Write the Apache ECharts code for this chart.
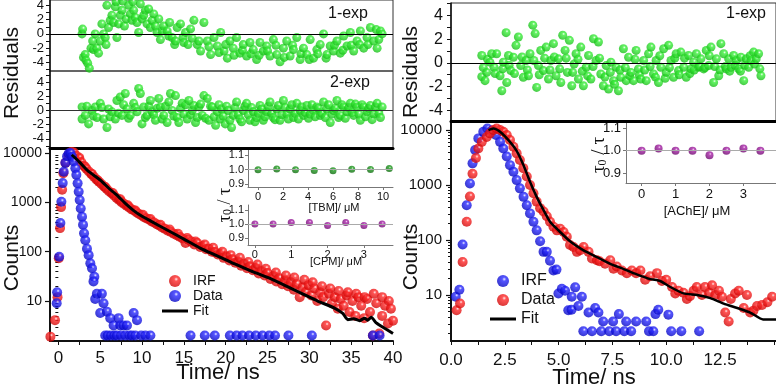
<!DOCTYPE html>
<html>
<head>
<meta charset="utf-8">
<script src="https://cdn.jsdelivr.net/npm/echarts@6/dist/echarts.min.js"></script>
<style>
  html, body { margin: 0; background: #fff; }
  #chart { width: 776px; height: 388px; }
</style>
</head>
<body>
<div id="chart"></div>
<script>
  // ---- data ----
  // left panel: residuals [time ns, residual]
  const leftRes1exp = [[2.83,0],[2.9,0.67],[3.0,-3.3],[3.2,-2.9],[3.3,-3.7],[3.5,-4.1],[3.7,-4.8],[3.9,-2.0],[4.1,-1.0],[4.2,-2.2],[4.4,0],[4.6,-2],[4.8,-2.7],[5.0,-1.0],[5.2,1.4],[5.4,0],[5.6,-0.5],[5.7,-1.5],[5.8,4.0],[6.0,0.9],[6.2,1.9],[6.4,2.6],[6.6,1.6],[6.8,3.8],[6.9,4.5],[7.0,-0.5],[7.2,1.4],[7.4,2.6],[7.6,3.3],[7.7,4.6],[7.9,1.1],[8.1,2.1],[8.4,4.0],[8.6,2.8],[8.8,1.9],[8.9,4.5],[9.0,3.3],[9.2,2.3],[9.4,1.6],[9.6,0.2],[9.8,4.2],[10.0,2.1],[10.2,2.6],[10.4,3.3],[10.6,1.4],[10.8,3.5],[11.0,0.9],[11.2,1.9],[11.4,2.8],[11.6,1.1],[11.8,0.2],[12.0,2.1],[12.2,-0.8],[12.4,0.4],[12.6,1.1],[13.0,0.4],[13.2,-0.3],[13.3,1.6],[13.6,-0.5],[13.9,-1.5],[14.0,-1.0],[14.2,0.9],[14.6,1.4],[14.9,-0.5],[15.0,-1.2],[15.2,0.2],[15.5,-1.5],[15.8,0.7],[16.0,-0.6],[16.2,1.9],[16.6,-1.5],[16.8,-1.0],[17.0,-2.4],[17.4,1.6],[17.8,-1.0],[18.0,-1.8],[18.2,-2.9],[18.6,-0.5],[19.0,-1.7],[19.2,-2.6],[19.4,0.2],[19.8,-2.4],[20.0,-1.5],[20.2,-3.4],[20.5,-1.0],[20.9,-2.0],[21.0,-3.0],[21.3,-0.5],[21.7,-2.7],[22.0,-2.3],[22.1,-1.5],[22.5,-3.1],[22.9,-1.2],[23.0,-2.8],[23.3,-2.2],[23.7,-3.6],[24.0,-3.0],[24.1,-1.2],[24.5,-2.4],[24.9,-1.7],[25.0,-2.4],[25.3,-3.1],[25.7,-0.8],[26.0,-1.6],[26.1,-2.9],[26.5,-3.9],[26.9,-2.0],[27.0,-3.3],[27.3,-1.0],[27.7,-3.1],[28.0,-1.6],[28.1,-2.2],[28.5,-0.5],[28.9,-3.6],[29.0,-2.8],[29.3,-2.0],[29.7,-2.9],[30.0,-3.6],[30.1,-0.8],[30.5,-3.4],[30.9,-2.2],[31.0,-2.8],[31.3,-1.5],[31.7,0],[32.0,-3.4],[32.1,-2.9],[32.5,-1.7],[32.9,-2.4],[33.0,-1.6],[33.3,-1.0],[33.7,-2.7],[34.0,-2.3],[34.1,-0.3],[34.5,-1.7],[34.9,0.2],[35.0,-1.6],[35.3,-2.4],[35.7,-1.0],[36.0,-1.5],[36.1,0.4],[36.5,-2.0],[36.9,-0.5],[37.0,-1.5],[37.3,0.9],[37.7,-1.0],[38.0,0.6],[38.1,-2.0],[38.3,-0.8],[38.5,0.4],[38.7,0]];
  const leftRes2exp = [[2.83,0.5],[2.83,-1.2],[3.22,-0.7],[3.4,0.6],[3.62,-1.9],[4.02,0],[4.2,-0.8],[4.42,0.5],[4.62,-1],[5.01,1],[5.2,0.4],[5.41,-1.2],[5.81,-2.4],[6.01,0.2],[6.2,-0.9],[6.41,-0.2],[6.81,-1.2],[7.0,1.4],[7.2,-0.4],[7.4,1.9],[7.6,-0.7],[7.8,0.8],[8.0,2.4],[8.2,0.2],[8.4,-1.1],[8.6,-0.7],[9.0,1],[9.2,0.4],[9.4,-0.2],[9.6,3.1],[9.8,2.4],[10.0,-1.9],[10.2,0.5],[10.4,-1.0],[10.6,-0.7],[10.8,0.6],[11.0,1.4],[11.2,-0.2],[11.4,-0.6],[11.6,-1.4],[11.8,0.3],[12.0,1.7],[12.2,0.5],[12.4,-1.2],[12.6,-0.7],[12.8,0.6],[13.0,-1.7],[13.2,1.2],[13.4,2.4],[13.6,0],[13.8,-0.8],[14.0,2.1],[14.2,-1],[14.4,-1.7],[14.6,0.3],[14.8,1],[15.0,-0.5],[15.2,0.8],[15.4,-1.2],[15.6,1.4],[15.8,-0.6],[16.0,0],[16.2,0.7],[16.4,-1.7],[16.6,-1.0],[16.8,0.5],[17.0,0.9],[17.2,-0.7],[17.4,2.1],[17.6,-1.1],[17.8,1.7],[18.0,-1.4],[18.2,0.6],[18.4,0.5],[18.6,-0.9],[18.8,-2.1],[19.0,-0.2],[19.2,0.8],[19.35,-1.2],[19.5,0.2],[19.7,-0.8],[19.95,-1.9],[20.1,0.6],[20.3,0],[20.5,-1.4],[20.7,-2.4],[20.9,-0.7],[21.1,0.4],[21.3,1.2],[21.5,-0.6],[21.7,-1.2],[21.9,-1.6],[22.1,0],[22.3,0.6],[22.5,1],[22.7,-0.6],[22.9,-1.4],[23.1,0.4],[23.3,-0.2],[23.5,-1.6],[23.7,-1],[23.9,-0.4],[24.1,0.7],[24.3,0.2],[24.5,-1.4],[24.7,-0.9],[24.9,-0.2],[25.1,0.6],[25.3,1.2],[25.5,-0.4],[25.7,-1],[25.9,-1.3],[26.1,0.2],[26.3,0.7],[26.5,-1.4],[26.7,-0.6],[26.9,1.4],[27.1,0.4],[27.3,-0.5],[27.5,-1.2],[27.7,0.2],[27.9,0.8],[28.1,-1],[28.3,-0.4],[28.5,1],[28.7,-1.2],[28.9,0],[29.1,0.5],[29.3,-0.7],[29.5,-0.3],[29.7,0.7],[29.9,-1.1],[30.1,-0.5],[30.3,0.8],[30.5,0],[30.7,-0.9],[30.9,0.5],[31.1,0.3],[31.3,-0.7],[31.5,-0.4],[31.7,1.2],[31.9,-1.0],[32.1,0.2],[32.3,0.8],[32.5,-1.7],[32.7,-0.5],[32.9,0],[33.1,0.3],[33.3,1.4],[33.5,-1.0],[33.7,-0.7],[33.9,0.8],[34.1,0.5],[34.3,-1.1],[34.5,-0.2],[34.7,0.4],[34.9,1],[35.1,-0.3],[35.3,-0.7],[35.5,0.9],[35.7,0.5],[35.9,-0.5],[36.1,-1.4],[36.3,0.8],[36.5,0.5],[36.7,-0.9],[36.9,-0.2],[37.1,0.3],[37.3,0.7],[37.5,-1.3],[37.7,-0.5],[37.9,0.5],[38.1,1],[38.3,-0.4],[38.5,-1],[38.7,0.5]];

  // left panel: decay [time ns, counts]
  const leftIrf = [[-0.95,1.9],[-0.4,4.1],[-0.1,12],[0.05,74],[0.2,300],[0.32,800],[0.45,1800],[0.6,3900],[0.85,6300],[1.2,9100],[1.55,10500],[1.85,10200],[2.15,8800],[2.45,7600],[2.5,8000],[2.75,6500],[3.05,5500],[3.2,5200],[3.35,4800],[3.65,4200],[3.95,3700],[4.0,3800],[4.25,3300],[4.55,2900],[4.7,2800],[4.85,2600],[5.15,2350],[5.45,2100],[5.6,2050],[5.75,1880],[6.05,1680],[6.35,1520],[6.5,1550],[6.65,1370],[6.95,1230],[7.25,1120],[7.4,1150],[7.55,1010],[7.85,930],[8.15,850],[8.3,870],[8.45,790],[8.75,720],[9.05,680],[9.2,680],[9.35,620],[9.65,580],[9.95,540],[10.1,560],[10.25,500],[10.55,470],[10.85,450],[11.0,460],[11.15,410],[11.45,390],[11.75,360],[12.05,340],[12.2,350],[12.4,310],[12.75,290],[13.1,265],[13.3,280],[13.45,250],[13.8,230],[14.15,215],[14.3,230],[14.5,200],[14.85,185],[15.2,150],[15.4,190],[15.55,175],[15.9,160],[16.25,140],[16.4,160],[16.6,150],[16.95,125],[17.3,130],[17.5,140],[17.65,112],[18.0,115],[18.35,100],[18.5,120],[18.7,98],[19.05,88],[19.4,92],[19.6,100],[19.75,75],[20.1,80],[20.45,66],[20.6,85],[20.8,70],[21.15,60],[21.5,63],[21.7,75],[21.85,52],[22.2,57],[22.55,46],[22.7,62],[22.9,50],[23.25,42],[23.6,47],[23.8,55],[23.95,36],[24.3,40],[24.65,33],[24.8,45],[25.0,37],[25.35,28],[25.7,32],[26.0,38],[26.05,25],[26.4,29],[26.75,22],[27.1,26],[27.2,33],[27.45,20],[27.8,24],[28.15,17],[28.2,30],[28.5,22],[28.85,12],[29.2,19],[29.4,27],[29.55,15],[29.9,21],[30.25,13],[30.4,24],[30.6,18],[30.95,10],[31.3,15],[31.5,20],[31.65,12],[32.0,3.2],[32.35,14],[32.5,18],[32.7,9],[33.05,12],[33.4,7],[33.5,16],[33.75,11],[34.1,8],[34.45,13],[34.6,15],[34.8,6],[35.15,10],[35.5,5],[35.6,14],[35.85,12],[36.2,8],[36.55,4.5],[36.6,12],[36.9,11],[37.25,6],[37.6,2],[37.7,14],[38.0,9],[38.35,2.2],[38.7,5],[38.7,12],[39.05,8],[39.4,3.5],[39.5,10],[39.75,7],[40,4]];
  const leftData = [[-0.2,9],[-0.15,15],[0.1,79],[0.24,380],[0.36,1030],[0.52,2450],[0.64,4170],[0.84,6300],[1.04,8600],[1.25,9800],[1.45,10000],[1.63,8400],[1.83,6700],[2.03,4900],[2.15,3600],[2.3,2420],[2.43,1640],[2.55,1110],[2.67,750],[2.83,510],[2.95,350],[3.07,235],[3.22,170],[3.42,115],[3.62,85],[3.82,58],[4.02,46],[4.3,31],[4.2,25],[4.4,11],[4.6,14],[5.0,5.7],[5.2,14],[5.4,9],[5.6,2],[5.8,6.1],[5.9,2],[6.2,4.5],[6.3,2],[6.6,3.2],[6.7,2],[7.0,2],[7.2,4.5],[7.4,3.2],[7.5,2],[7.8,3.2],[8.0,2],[8.2,3.2],[8.5,2],[8.8,2],[9.0,5.7],[9.2,2],[9.4,4.1],[9.9,2],[10.4,2],[11.0,2],[15.8,2],[17.5,2],[18.7,2],[20.5,2],[21.3,2],[22.0,2],[22.8,2],[23.6,2],[24.4,2],[25.2,2],[25.9,2],[27.5,2],[30.3,2],[37.6,2],[38.4,2]];
  const leftFit = [[1.6,9200],[2.5,6600],[3.5,4400],[5.0,2830],[6.0,1950],[7.0,1400],[8.0,950],[9.0,680],[10.0,520],[11.0,420],[13.0,275],[15.0,180],[17.0,117],[19.0,82],[21.0,57],[23.0,41],[25.0,30],[27.0,21],[29.0,14.5],[31.0,10],[33.0,7.2],[34.0,5.6],[34.6,4.2],[35.3,4.4],[36.0,4.0],[36.6,4.5],[37.0,4.1],[37.4,4.7],[38.0,3.6],[39.0,2.8],[40.0,2.2]];

  // left insets: tau0/tau vs concentration
  const tbmConc = [0, 1.5, 3, 4.5, 6, 7.5, 9, 10.5];
  const tbmRatio = [1.0, 1.005, 1.0, 0.995, 0.993, 1.003, 1.002, 1.008];
  const cpmConc = [0, 0.5, 1, 1.5, 2, 2.5, 3, 3.5];
  const cpmRatio = [1.0, 1.0, 1.01, 1.01, 0.99, 1.01, 0.99, 1.0];

  // right panel
  const rightRes = [[1.43,0.62],[1.43,-1.16],[1.5,-0.4],[1.58,-1.5],[1.66,-0.8],[1.7,0.3],[1.81,0.06],[1.89,0.77],[2.0,-0.37],[2.05,-0.9],[2.12,0.77],[2.28,-1.08],[2.36,-2.35],[2.4,-0.5],[2.43,0.06],[2.56,2.55],[2.59,-1.65],[2.67,0.62],[2.7,-0.2],[2.78,-0.65],[2.9,0.48],[2.95,-0.9],[3.02,1.48],[3.13,2.18],[3.24,-0.23],[3.3,0.5],[3.36,-1.22],[3.49,0.2],[3.55,-0.6],[3.6,-1.08],[3.67,0.77],[3.8,3.18],[3.85,0.2],[3.91,2.47],[3.98,-2.07],[4.06,-0.23],[4.1,-1.0],[4.17,1.05],[4.29,-0.65],[4.35,0.4],[4.42,1.33],[4.53,-1.36],[4.6,-0.6],[4.64,0.2],[4.76,1.62],[4.8,0.5],[4.88,-1.08],[4.99,0.34],[5.05,-0.5],[5.1,-1.65],[5.19,2.33],[5.3,1.05],[5.35,0.4],[5.41,-0.8],[5.5,1.9],[5.61,-1.93],[5.65,-0.8],[5.72,-0.09],[5.81,0.77],[5.9,0.3],[5.92,-1.36],[6.03,1.33],[6.1,-0.7],[6.15,-1.93],[6.28,-0.37],[6.35,-1.1],[6.39,0.62],[6.5,-1.36],[6.6,-0.3],[6.62,2.04],[6.74,0.2],[6.85,1.76],[6.9,0.4],[6.96,-0.94],[7.08,-1.93],[7.15,-1.2],[7.21,-0.23],[7.32,-2.21],[7.4,-0.8],[7.43,0.06],[7.55,-1.5],[7.6,-1.8],[7.67,-0.37],[7.78,-2.35],[7.85,-0.6],[7.89,-1.22],[8.01,1.19],[8.1,-0.4],[8.14,-1.5],[8.25,0.48],[8.3,-1.1],[8.36,-0.8],[8.48,-1.5],[8.55,0.3],[8.6,1.05],[8.71,-0.51],[8.75,-1.0],[8.82,-1.36],[8.95,0.2],[9.0,-0.6],[9.07,-1.5],[9.18,0.77],[9.25,-0.3],[9.29,1.33],[9.41,-0.94],[9.5,-1.2],[9.53,0.2],[9.64,-1.65],[9.7,0.6],[9.75,-0.37],[9.88,1.19],[9.95,-1.3],[10.0,-0.8],[10.11,1.48],[10.15,-0.4],[10.22,0.2],[10.34,-1.22],[10.4,0.4],[10.46,0.77],[10.57,-0.65],[10.6,-1.0],[10.68,0.91],[10.81,-0.37],[10.85,0.4],[10.93,-1.22],[11.04,0.62],[11.1,-0.9],[11.15,-0.51],[11.27,0.06],[11.3,-0.6],[11.4,0.77],[11.5,-0.37],[11.55,-0.3],[11.61,0.34],[11.74,-0.51],[11.8,-0.4],[11.86,1.05],[11.97,-0.23],[12.0,0.6],[12.08,1.33],[12.2,-1.65],[12.25,-0.3],[12.33,0.34],[12.44,-1.08],[12.5,-0.6],[12.54,1.62],[12.67,0.77],[12.75,-0.3],[12.79,-0.51],[12.9,0.34],[12.95,-0.7],[13.01,-0.37],[13.13,0.62],[13.2,-0.2],[13.26,0.2],[13.37,-0.51],[13.45,-0.7],[13.47,0.48],[13.6,-1.5],[13.65,-0.2],[13.72,0.34],[13.83,-0.37],[13.9,0.6],[13.94,0.2],[14.06,0.91],[14.1,-0.1],[14.18,0.34],[14.29,0.77],[14.35,-0.5],[14.4,-1.08]];
  const rightIrf = [[0.22,9.3],[0.39,12.5],[0.54,83],[0.73,430],[0.88,1070],[1.0,2480],[1.12,4330],[1.27,7050],[1.5,9300],[1.69,10700],[1.89,9800],[2.09,8100],[2.28,6100],[2.43,4600],[2.59,3300],[2.74,2300],[2.9,1750],[3.05,1230],[3.2,870],[3.37,610],[3.52,430],[3.67,305],[3.83,215],[3.98,150],[4.14,95],[4.3,61],[4.45,61],[4.6,42],[4.76,28],[4.9,29],[4.99,10.7],[5.15,13],[5.3,12],[5.45,5.3],[5.6,5.4],[5.61,9.3],[5.77,13.8],[5.92,6.3],[6.08,9.3],[6.15,2.2],[6.39,4.8],[6.55,2.2],[6.7,5.8],[6.85,4.8],[6.98,2.2],[7.07,3.3],[7.35,2.2],[7.53,3.3],[7.67,2.2],[7.8,4.5],[8.05,2.2],[8.14,3.3],[8.37,2.2],[8.6,3.3],[9.07,3.3],[9.2,2.2],[9.4,2.2],[9.5,4.5],[9.63,5.4],[10.1,4.4],[10.23,2.2],[10.7,2.2],[11.53,2.2]];
  const rightData = [[0.26,5.3],[0.42,7.0],[0.54,40],[0.73,215],[0.88,620],[1.0,1600],[1.16,3100],[1.27,4600],[1.43,6100],[1.66,7500],[1.81,8700],[1.97,10000],[2.12,10700],[2.28,10000],[2.43,9300],[2.59,8100],[2.74,6600],[2.9,4960],[3.05,3770],[3.2,2860],[3.36,2030],[3.52,1430],[3.67,1000],[3.83,710],[3.98,500],[4.14,380],[4.3,330],[4.45,270],[4.6,215],[4.76,175],[4.92,150],[5.07,160],[5.23,140],[5.38,115],[5.53,81],[5.69,75],[5.85,61],[6.0,65],[6.16,75],[6.39,61],[6.55,46],[6.78,43],[6.9,41],[7.16,37],[7.4,43],[7.55,30],[7.7,33],[7.94,28],[8.17,25],[8.4,28],[8.6,25],[8.8,28],[9.02,19],[9.25,22],[9.57,25],[9.8,18],[10.0,19],[10.27,14],[10.42,10.7],[10.57,12],[10.8,11],[10.96,8.5],[11.1,9.5],[11.27,12],[11.42,14],[11.66,10],[11.8,14],[12.0,11],[12.13,15],[12.28,10],[12.45,12],[12.59,9.3],[12.74,4.8],[12.9,3.3],[13.0,8.5],[13.2,10.7],[13.37,12],[13.6,5.8],[13.75,10],[13.9,4.8],[14.05,5.2],[14.22,6.3],[14.45,6.6],[14.7,7.4],[14.92,9.3]];
  const rightFit = [[1.74,10000],[1.97,10700],[2.28,9300],[2.74,6100],[3.05,4200],[3.37,2300],[3.67,1150],[3.98,610],[4.3,350],[4.6,215],[4.92,160],[5.53,95],[6.16,65],[6.78,49],[7.4,37],[8.0,30],[8.6,24],[9.26,19.5],[9.72,18],[10.19,14],[10.8,10.7],[11.43,10],[12.05,8.8],[12.67,7.0],[13.3,5.8],[13.9,4.8],[14.5,3.6],[15.1,3.6]];
  const acheConc = [0, 0.5, 1, 1.5, 2, 2.5, 3, 3.5];
  const acheRatio = [1.0, 1.01, 1.0, 1.0, 0.98, 1.0, 1.01, 1.0];

  // tick / label positions
  const leftTimeLabels = [0, 5, 10, 15, 20, 25, 30, 35, 40];
  const leftTimeTicks = [0, 2.5, 5, 7.5, 10, 12.5, 15, 17.5, 20, 22.5, 25, 27.5, 30, 32.5, 35, 37.5, 40];
  const rightTimeLabels = [0, 2.5, 5, 7.5, 10, 12.5];
  const rightTimeTicks = [0, 1.25, 2.5, 3.75, 5, 6.25, 7.5, 8.75, 10, 11.25, 12.5, 13.75, 15];
  const countLabels = [10, 100, 1000, 10000];
  const countMinor = [2,3,4,5,6,7,8,9,20,30,40,50,60,70,80,90,200,300,400,500,600,700,800,900,2000,3000,4000,5000,6000,7000,8000,9000];
  const resLabels = [-4, -2, 0, 2, 4];
  const resTicks = [-5, -4, -3, -2, -1, 0, 1, 2, 3, 4, 5];
  const ratioLabels = [0.9, 1.0, 1.1];

  const FONT = '"Liberation Sans Narrow", "Liberation Sans", Arial, sans-serif';
  const SERIF = '"Liberation Serif", "DejaVu Serif", serif';
  const LINE_ICON = 'path://M0,0L0,0M26,12L26,12M0,4.5L26,4.5L26,7.5L0,7.5Z';

  function ball(hi, base, dark) {
    return new echarts.graphic.RadialGradient(0.6, 0.35, 0.75, [
      { offset: 0, color: hi }, { offset: 0.22, color: base }, { offset: 1, color: dark }
    ]);
  }
  const RED = ball('#ffe8e8', '#ff2a2a', '#c80000');
  const BLUE = ball('#e8e8ff', '#2a2aff', '#0000b8');
  const GREEN = ball('#f0fff0', '#3cf03c', '#12b412');
  const DKGREEN = ball('#c8f0c8', '#1f9c1f', '#0a600a');
  const PURPLE = ball('#f4c8f4', '#a824a8', '#640064');

  function zip(a, b) { return a.map((v, i) => [v, b[i]]); }

  function hiddenX(grid, min, max) {
    return { gridIndex: grid, type: 'value', min: min, max: max, show: false };
  }
  function numAxis(grid, min, max, ticks, opts) {
    return Object.assign({
      gridIndex: grid, type: 'value', min: min, max: max,
      axisLine: { show: true, onZero: false, lineStyle: { color: '#111', width: 1.5 } },
      axisTick: { show: true, customValues: ticks, length: 4, lineStyle: { color: '#111', width: 1 } },
      splitLine: { show: false }
    }, opts || {});
  }
  function label(values, size, margin, fmt, lh) {
    const o = { customValues: values, fontSize: size, color: '#111', fontFamily: FONT, margin: margin,
      showMinLabel: true, showMaxLabel: true, hideOverlap: false, interval: 0, lineHeight: lh || size };
    if (fmt) o.formatter = fmt;
    return o;
  }
  function thinLine(color) {
    return { show: true, onZero: false, lineStyle: { color: color, width: 1 } };
  }
  function grayTicks(values) {
    return { show: true, customValues: values, length: 3, lineStyle: { color: '#777' } };
  }
  function zeroLine(v, color) {
    return { silent: true, symbol: 'none', label: { show: false },
      lineStyle: { color: color, width: 1, type: 'solid' }, data: [{ yAxis: v }] };
  }
  const fix1 = v => v.toFixed(1);
  const plain = v => String(v);

  const chart = echarts.init(document.getElementById('chart'));
  chart.setOption({
    animation: false,
    backgroundColor: '#fff',
    grid: [
      { left: 50, top: 0, width: 343, height: 71, show: true, borderColor: '#333', borderWidth: 1, outerBoundsMode: 'none' },
      { left: 50, top: 71, width: 343, height: 77, show: true, borderColor: '#333', borderWidth: 1, outerBoundsMode: 'none' },
      { left: 50, top: 148, width: 343, height: 193, outerBoundsMode: 'none' },
      { left: 248, top: 148, width: 145, height: 39, outerBoundsMode: 'none' },
      { left: 248, top: 205, width: 145, height: 40, outerBoundsMode: 'none' },
      { left: 451, top: 3, width: 325, height: 118, show: true, borderColor: '#333', borderWidth: 1, outerBoundsMode: 'none' },
      { left: 451, top: 121, width: 325, height: 220, outerBoundsMode: 'none' },
      { left: 626, top: 121, width: 150, height: 62, outerBoundsMode: 'none' }
    ],
    xAxis: [
      hiddenX(0, -1, 40),
      hiddenX(1, -1, 40),
      numAxis(2, -1, 40, leftTimeTicks, {
        axisLine: { show: true, onZero: false, lineStyle: { color: '#111', width: 2 } },
        axisLabel: label(leftTimeLabels, 17, 9)
      }),
      numAxis(3, -0.8, 10.8, null, {
        axisLine: thinLine('#777'), axisTick: grayTicks([0, 2, 4, 6, 8, 10]),
        axisLabel: label([0, 2, 4, 6, 8, 10], 11, 4)
      }),
      numAxis(4, -0.19, 3.8, null, {
        axisLine: thinLine('#777'), axisTick: grayTicks([0, 1, 2, 3]),
        axisLabel: label([0, 1, 2, 3], 11, 4)
      }),
      hiddenX(5, 0, 15.1),
      numAxis(6, 0, 15.1, rightTimeTicks, {
        axisLine: { show: true, onZero: false, lineStyle: { color: '#111', width: 2 } },
        axisLabel: label(rightTimeLabels, 17, 11, fix1)
      }),
      numAxis(7, -0.46, 3.96, null, {
        axisLine: thinLine('#777'), axisTick: grayTicks([0, 1, 2, 3]),
        axisLabel: label([0, 1, 2, 3], 13, 5)
      }),
      // thick frame lines on top of the decay plots
      { gridIndex: 2, type: 'value', position: 'top', min: -1, max: 40,
        axisLine: { show: true, lineStyle: { color: '#000', width: 3 } },
        axisTick: { show: false }, axisLabel: { show: false }, splitLine: { show: false } },
      { gridIndex: 6, type: 'value', position: 'top', min: 0, max: 15.1,
        axisLine: { show: true, lineStyle: { color: '#000', width: 3 } },
        axisTick: { show: false }, axisLabel: { show: false }, splitLine: { show: false } }
    ],
    yAxis: [
      numAxis(0, -5.2, 4.75, resTicks, { axisLabel: label(resLabels, 13, 6, null, 11) }),
      numAxis(1, -5.3, 5.57, resTicks, { axisLabel: label(resLabels, 13, 6, null, 11) }),
      numAxis(2, 1.55, 12600, countLabels, {
        type: 'log', logBase: 10,
        axisLine: { show: true, onZero: false, lineStyle: { color: '#111', width: 2 } },
        axisTick: { show: true, customValues: countLabels, length: 5, lineStyle: { color: '#111', width: 1.2 } },
        axisLabel: label(countLabels, 14, 8, plain)
      }),
      numAxis(3, 0.88, 1.15, null, {
        axisLine: thinLine('#777'), axisTick: grayTicks(ratioLabels),
        axisLabel: label(ratioLabels, 11, 4, fix1, 10)
      }),
      numAxis(4, 0.85, 1.136, null, {
        axisLine: thinLine('#777'), axisTick: grayTicks(ratioLabels),
        axisLabel: label(ratioLabels, 11, 4, fix1, 10)
      }),
      numAxis(5, -4.9, 5.05, resTicks, { axisLabel: label(resLabels, 16, 8, null, 16) }),
      numAxis(6, 1.46, 14600, countLabels, {
        type: 'log', logBase: 10,
        axisLine: { show: true, onZero: false, lineStyle: { color: '#111', width: 2 } },
        axisTick: { show: true, customValues: countLabels, length: 5, lineStyle: { color: '#111', width: 1.2 } },
        axisLabel: label(countLabels, 15, 9, plain)
      }),
      numAxis(7, 0.857, 1.131, null, {
        axisLine: thinLine('#777'), axisTick: grayTicks(ratioLabels),
        axisLabel: label(ratioLabels, 13, 5, fix1, 13)
      }),
      // minor log ticks
      { gridIndex: 2, type: 'log', position: 'left', min: 1.55, max: 12600,
        axisLine: { show: false }, axisLabel: { show: false }, splitLine: { show: false },
        axisTick: { show: true, customValues: countMinor, length: 3, lineStyle: { color: '#111' } } },
      { gridIndex: 6, type: 'log', position: 'left', min: 1.46, max: 14600,
        axisLine: { show: false }, axisLabel: { show: false }, splitLine: { show: false },
        axisTick: { show: true, customValues: countMinor, length: 3, lineStyle: { color: '#111' } } }
    ],
    legend: [
      { left: 157, top: 269, orient: 'vertical', itemWidth: 26, itemHeight: 12, itemGap: 1,
        selectedMode: false, textStyle: { fontSize: 14, color: '#111', fontFamily: FONT },
        data: ['IRF', 'Data', { name: 'Fit', icon: LINE_ICON, itemStyle: { color: '#000' } }] },
      { left: 485, top: 268, orient: 'vertical', itemWidth: 26, itemHeight: 12, itemGap: 3,
        selectedMode: false, textStyle: { fontSize: 16, color: '#111', fontFamily: FONT },
        data: ['IRF ', 'Data ', { name: 'Fit ', icon: LINE_ICON, itemStyle: { color: '#000' } }] }
    ],
    series: [
      { type: 'scatter', xAxisIndex: 0, yAxisIndex: 0, data: leftRes1exp, symbolSize: 9,
        itemStyle: { color: GREEN }, markLine: zeroLine(0, '#000') },
      { type: 'scatter', xAxisIndex: 1, yAxisIndex: 1, data: leftRes2exp, symbolSize: 9,
        itemStyle: { color: GREEN }, markLine: zeroLine(0, '#333') },
      { name: 'IRF', type: 'scatter', xAxisIndex: 2, yAxisIndex: 2, data: leftIrf, symbolSize: 10,
        itemStyle: { color: RED } },
      { name: 'Data', type: 'scatter', xAxisIndex: 2, yAxisIndex: 2, data: leftData, symbolSize: 10,
        itemStyle: { color: BLUE } },
      { name: 'Fit', type: 'line', xAxisIndex: 2, yAxisIndex: 2, data: leftFit, symbol: 'none', smooth: 0.2,
        lineStyle: { color: '#000', width: 3 }, itemStyle: { color: '#000' } },
      { type: 'scatter', xAxisIndex: 3, yAxisIndex: 3, data: zip(tbmConc, tbmRatio), symbolSize: 7,
        itemStyle: { color: DKGREEN }, markLine: zeroLine(1.0, '#aaa') },
      { type: 'scatter', xAxisIndex: 4, yAxisIndex: 4, data: zip(cpmConc, cpmRatio), symbolSize: 7,
        itemStyle: { color: PURPLE }, markLine: zeroLine(1.0, '#aaa') },
      { type: 'scatter', xAxisIndex: 5, yAxisIndex: 5, data: rightRes, symbolSize: 9,
        itemStyle: { color: GREEN }, markLine: zeroLine(0, '#000') },
      { name: 'IRF ', type: 'scatter', xAxisIndex: 6, yAxisIndex: 6, data: rightIrf, symbolSize: 10,
        itemStyle: { color: BLUE } },
      { name: 'Data ', type: 'scatter', xAxisIndex: 6, yAxisIndex: 6, data: rightData, symbolSize: 10,
        itemStyle: { color: RED } },
      { name: 'Fit ', type: 'line', xAxisIndex: 6, yAxisIndex: 6, data: rightFit, symbol: 'none', smooth: 0.2,
        lineStyle: { color: '#000', width: 2.5 }, itemStyle: { color: '#000' } },
      { type: 'scatter', xAxisIndex: 7, yAxisIndex: 7, data: zip(acheConc, acheRatio), symbolSize: 8,
        itemStyle: { color: PURPLE }, markLine: zeroLine(1.0, '#aaa') }
    ],
    graphic: [
      { type: 'text', x: 12, y: 73, rotation: Math.PI / 2,
        style: { text: 'Residuals', font: '21px ' + FONT, fill: '#111', align: 'center', verticalAlign: 'middle' } },
      { type: 'text', x: 12, y: 258, rotation: Math.PI / 2,
        style: { text: 'Counts', font: '21px ' + FONT, fill: '#111', align: 'center', verticalAlign: 'middle' } },
      { type: 'text', x: 218, y: 373,
        style: { text: 'Time/ ns', font: '22px ' + FONT, fill: '#111', align: 'center', verticalAlign: 'middle' } },
      { type: 'text', x: 348, y: 14,
        style: { text: '1-exp', font: '16px ' + FONT, fill: '#111', align: 'center', verticalAlign: 'middle' } },
      { type: 'text', x: 350, y: 83,
        style: { text: '2-exp', font: '16px ' + FONT, fill: '#111', align: 'center', verticalAlign: 'middle' } },
      { type: 'text', x: 225, y: 205, rotation: Math.PI / 2,
        style: { text: '{a|τ}{s|0}{a| / τ}', align: 'center', verticalAlign: 'middle',
          rich: { a: { font: '18px ' + SERIF, fill: '#111' }, s: { font: '12px ' + SERIF, fill: '#111', verticalAlign: 'bottom' } } } },
      { type: 'text', x: 334, y: 208,
        style: { text: '[TBM]/ μM', font: '11px ' + FONT, fill: '#111', align: 'center', verticalAlign: 'middle' } },
      { type: 'text', x: 336, y: 262,
        style: { text: '[CPM]/ μM', font: '11px ' + FONT, fill: '#111', align: 'center', verticalAlign: 'middle' } },
      { type: 'text', x: 411, y: 72, rotation: Math.PI / 2,
        style: { text: 'Residuals', font: '21px ' + FONT, fill: '#111', align: 'center', verticalAlign: 'middle' } },
      { type: 'text', x: 411, y: 257, rotation: Math.PI / 2,
        style: { text: 'Counts', font: '21px ' + FONT, fill: '#111', align: 'center', verticalAlign: 'middle' } },
      { type: 'text', x: 594, y: 378,
        style: { text: 'Time/ ns', font: '22px ' + FONT, fill: '#111', align: 'center', verticalAlign: 'middle' } },
      { type: 'text', x: 746, y: 14,
        style: { text: '1-exp', font: '16px ' + FONT, fill: '#111', align: 'center', verticalAlign: 'middle' } },
      { type: 'text', x: 599, y: 155, rotation: Math.PI / 2,
        style: { text: '{a|τ}{s|0}{a| / τ}', align: 'center', verticalAlign: 'middle',
          rich: { a: { font: '19px ' + SERIF, fill: '#111' }, s: { font: '12px ' + SERIF, fill: '#111', verticalAlign: 'bottom' } } } },
      { type: 'text', x: 697, y: 211,
        style: { text: '[AChE]/ μM', font: '13px ' + FONT, fill: '#111', align: 'center', verticalAlign: 'middle' } }
    ]
  });
</script>
</body>
</html>
